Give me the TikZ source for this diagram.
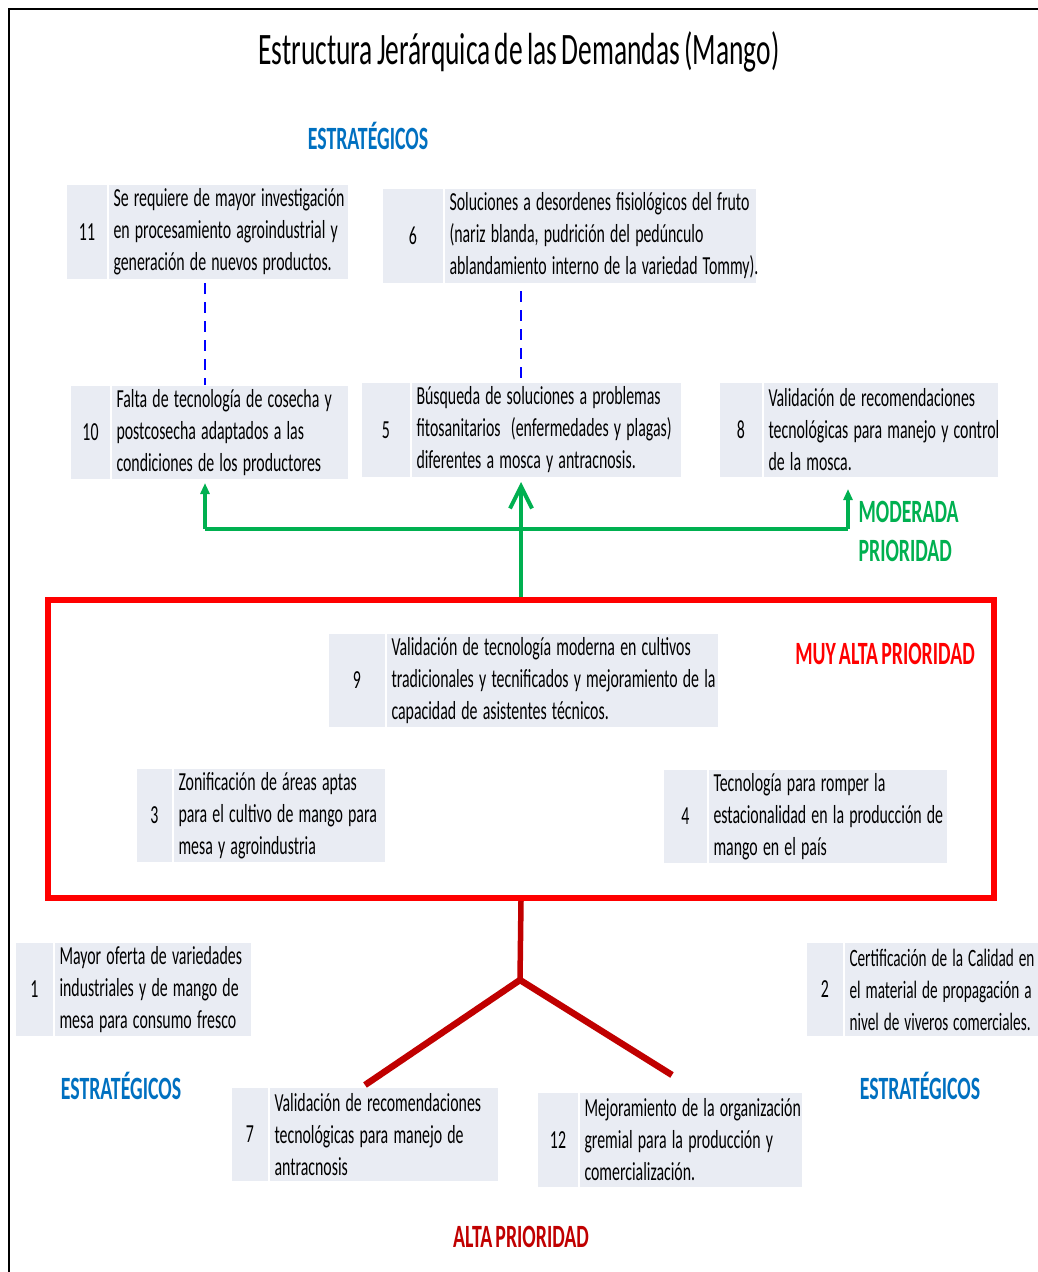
\documentclass[tikz,border=0pt]{standalone}
\usepackage{fontspec}
\setmainfont[FakeStretch=0.61,WordSpace=0.7]{Carlito}
\usetikzlibrary{positioning,arrows.meta}

\definecolor{celda}{RGB}{233,236,243}
\definecolor{cverde}{RGB}{0,176,80}
\definecolor{cazul}{RGB}{0,112,192}
\definecolor{crojo}{RGB}{255,0,0}
\definecolor{cgranate}{RGB}{192,0,0}

\begin{document}
\begin{tikzpicture}[x=1pt,y=-1pt,
	numero/.style={fill=celda, draw=white, line width=1pt, inner sep=0pt, anchor=north west,
		font=\fontsize{26}{32}\selectfont},
	texto/.style={fill=celda, draw=white, line width=1pt, inner sep=0pt, align=left,
		font=\fontsize{26}{32}\selectfont,
		execute at begin node={\leftskip=5pt\rightskip=0pt plus 1fil minus 30pt
			\spaceskip=0.2em plus 0.05em minus 0.05em\xspaceskip=\spaceskip\relax}},
	etiqueta/.style={font=\bfseries\fontsize{32.5}{39}\selectfont},
	verde/.style={draw=cverde, line width=4pt},
	punteada/.style={draw=blue, line width=1.6pt, dash pattern=on 11pt off 8pt},
	granate/.style={draw=cgranate, line width=5.5pt}]%, show background rectangle]
	\useasboundingbox (0,0) rectangle (1038,1272);
	\draw[line width=2.5pt] (9,1272) -- (9,9) -- (1038,9);

	\node[font=\fontsize{45}{50}\selectfont] (titulo) at (519,52) {Estructura Jerárquica de las Demandas (Mango)};
	\node[etiqueta, text=cazul] (estr1) at (368,136) {ESTRATÉGICOS};

	% estrategicos
	\node[numero, minimum width=41pt, minimum height=95pt] (n11) at (66,184) {11};
	\node[texto, right=0pt of n11, text width=240pt, minimum height=95pt] (d11) {Se requiere de mayor investigación\\en procesamiento agroindustrial y\\generación de nuevos productos.};
	\node[numero, minimum width=61pt, minimum height=95pt] (n6) at (382,188) {6};
	\node[texto, right=0pt of n6, text width=312pt, minimum height=95pt] (d6) {Soluciones a desordenes fisiológicos del fruto\\(nariz blanda, pudrición del pedúnculo\\ablandamiento interno de la variedad Tommy).};

	% moderada prioridad
	\node[numero, minimum width=40pt, minimum height=94pt] (n10) at (70,385) {10};
	\node[texto, right=0pt of n10, text width=237pt, minimum height=94pt] (d10) {Falta de tecnología de cosecha y\\postcosecha adaptados a las\\condiciones de los productores};
	\node[numero, minimum width=49pt, minimum height=95pt] (n5) at (361,382) {5};
	\node[texto, right=0pt of n5, text width=270pt, minimum height=95pt] (d5) {Búsqueda de soluciones a problemas\\fitosanitarios\ \ (enfermedades y plagas)\\diferentes a mosca y antracnosis.};
	\node[numero, minimum width=43pt, minimum height=95pt] (n8) at (719,382) {8};
	\node[texto, right=0pt of n8, text width=235pt, minimum height=95pt] (d8) {Validación de recomendaciones\\tecnológicas para manejo y control\\de la mosca.};
	\node[etiqueta, text=cverde, align=left, anchor=west] (moderada) at (855,531) {MODERADA\\PRIORIDAD};

	% muy alta prioridad
	\node[draw=crojo, line width=6pt, minimum width=946pt, minimum height=298pt] (muyalta) at (521,749) {};
	\node[etiqueta, text=crojo] (tmuyalta) at (885,654) {MUY ALTA PRIORIDAD};
	\node[numero, minimum width=57pt, minimum height=94pt] (n9) at (328,633) {9};
	\node[texto, right=0pt of n9, text width=332pt, minimum height=94pt] (d9) {Validación de tecnología moderna en cultivos\\tradicionales y tecnificados y mejoramiento de la\\capacidad de asistentes técnicos.};
	\node[numero, minimum width=36pt, minimum height=94pt] (n3) at (136,768) {3};
	\node[texto, right=0pt of n3, text width=212pt, minimum height=94pt] (d3) {Zonificación de áreas aptas\\para el cultivo de mango para\\mesa y agroindustria};
	\node[numero, minimum width=44pt, minimum height=94pt] (n4) at (663,769) {4};
	\node[texto, right=0pt of n4, text width=239pt, minimum height=94pt] (d4) {Tecnología para romper la\\estacionalidad en la producción de\\mango en el país};

	% estrategicos abajo
	\node[numero, minimum width=38pt, minimum height=94pt] (n1) at (15,942) {1};
	\node[texto, right=0pt of n1, text width=197pt, minimum height=94pt] (d1) {Mayor oferta de variedades\\industriales y de mango de\\mesa para consumo fresco};
	\node[numero, minimum width=37pt, minimum height=94pt] (n2) at (806,942) {2};
	\node[texto, right=0pt of n2, text width=194pt, minimum height=94pt, font=\fontsize{25}{32}\selectfont] (d2) {Certificación de la Calidad en\\el material de propagación a\\nivel de viveros comerciales.};
	\node[etiqueta, text=cazul] (estr2) at (121,1086) {ESTRATÉGICOS};
	\node[etiqueta, text=cazul] (estr3) at (920,1086) {ESTRATÉGICOS};

	% alta prioridad
	\node[numero, minimum width=37pt, minimum height=94pt] (n7) at (231,1087) {7};
	\node[texto, right=0pt of n7, text width=229pt, minimum height=94pt] (d7) {Validación de recomendaciones\\tecnológicas para manejo de\\antracnosis};
	\node[numero, minimum width=41pt, minimum height=95pt] (n12) at (537,1092) {12};
	\node[texto, right=0pt of n12, text width=223pt, minimum height=95pt] (d12) {Mejoramiento de la organización\\gremial para la producción y\\comercialización.};
	\node[etiqueta, text=cgranate] (alta) at (521,1237) {ALTA PRIORIDAD};

	% conectores
	\coordinate (pie10) at (205,529);
	\coordinate (pie8) at (848,529);
	\coordinate (rama) at (520,980);
	\coordinate (pie7) at (365,1085);
	\coordinate (pie12) at (672,1075);

	\draw[punteada, shorten <=3pt] (d11.south -| pie10) -- (d10.north -| pie10);
	\draw[punteada, shorten <=7pt] (d6.south -| muyalta.north) -- (d5.north -| muyalta.north);

	\draw[verde, -{Straight Barb[length=22pt,width=22pt,line width=4pt]}, shorten >=4pt] (muyalta.north) -- (muyalta.north |- d5.south);
	\draw[verde] (pie10) -- (pie8);
	\draw[verde, -{Triangle[length=11pt,width=9pt]}, shorten >=3pt] (pie10) -- (pie10 |- d10.south);
	\draw[verde, -{Triangle[length=11pt,width=9pt]}, shorten >=11pt] (pie8) -- (pie8 |- d8.south);

	\draw[granate] (muyalta.south) -- (rama);
	\draw[granate, line width=6.5pt] (pie7) -- (rama) -- (pie12);
\end{tikzpicture}
\end{document}
